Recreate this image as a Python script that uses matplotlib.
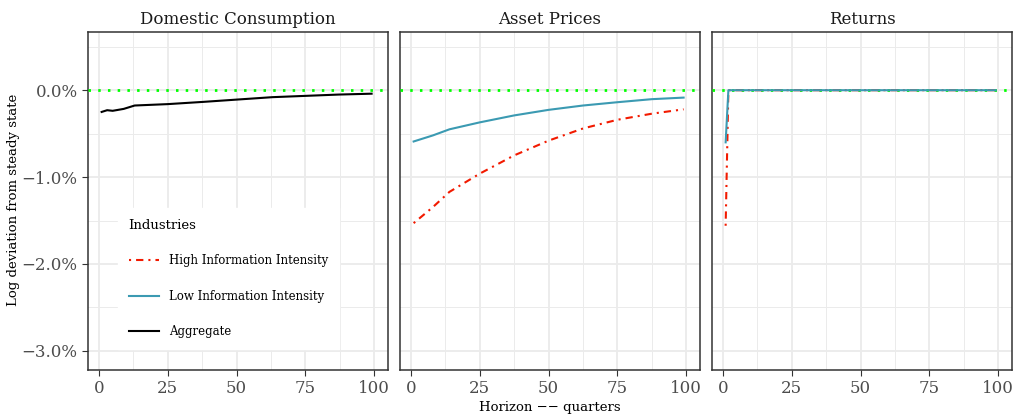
import numpy as np
import matplotlib.pyplot as plt
from matplotlib.lines import Line2D

plt.rcParams['font.family'] = ['DejaVu Serif']

cons_h = [1, 3, 5, 9, 13, 25, 38, 50, 63, 75, 87, 99]
cons_agg = [-0.25, -0.23, -0.237, -0.215, -0.176, -0.16, -0.134, -0.108, -0.08, -0.065, -0.05, -0.04]

price_h = [1, 8, 14, 25, 37.5, 50, 62.5, 75, 87.5, 99]
price_high = [-1.53, -1.345, -1.17, -0.96, -0.75, -0.58, -0.44, -0.34, -0.27, -0.22]
price_low = [-0.59, -0.52, -0.45, -0.37, -0.29, -0.226, -0.176, -0.138, -0.103, -0.085]

ret_h = [1, 2, 25, 50, 75, 99]
ret_high = [-1.56, 0.0, 0.0, 0.0, 0.0, 0.0]
ret_low = [-0.60, 0.0, 0.0, 0.0, 0.0, 0.0]

titles = ["Domestic Consumption", "Asset Prices", "Returns"]
red = "#F21A00"
teal = "#3B9AB2"
dotdash = (0, (1, 2.4, 3.5, 2.4))

fig = plt.figure(figsize=(10.18, 4.16), dpi=100)
lefts = [88, 400, 712]
axes = []
for i, l in enumerate(lefts):
    ax = fig.add_axes([l / 1018, 1 - 370 / 416, 300 / 1018, 338 / 416])
    axes.append(ax)
    ax.set_xlim(-3.95, 104.95)
    ax.set_ylim(-3.22, 0.67)
    ax.set_xticks([0, 25, 50, 75, 100])
    ax.set_xticks([12.5, 37.5, 62.5, 87.5], minor=True)
    ax.set_yticks([0, -1, -2, -3])
    ax.set_yticks([0.5, -0.5, -1.5, -2.5], minor=True)
    ax.grid(True, which='major', color='#EBEBEB', lw=1.3)
    ax.grid(True, which='minor', color='#EBEBEB', lw=0.7)
    ax.set_axisbelow(True)
    for s in ax.spines.values():
        s.set_color('#333333')
        s.set_linewidth(1.1)
    ax.tick_params(which='major', length=4, color='#333333', labelsize=12, labelcolor='#4D4D4D')
    ax.tick_params(which='minor', length=0)
    ax.set_title(titles[i], fontsize=12, pad=6, color='#1A1A1A')
    ax.axhline(0, color='#00FF00', lw=2.0, ls=(0, (0.9, 2.6)), zorder=3)
    if i == 0:
        ax.set_yticklabels(["0.0%", "\u22121.0%", "\u22122.0%", "\u22123.0%"])
    else:
        ax.set_yticklabels([])
        ax.tick_params(axis='y', length=0)

ax1, ax2, ax3 = axes
ax1.plot(cons_h, cons_agg, color='black', lw=1.5, zorder=4)

ax2.plot(price_h, price_low, color=teal, lw=1.5, zorder=4)
ax2.plot(price_h, price_high, color=red, lw=1.5, ls=dotdash, zorder=4)

ax3.plot(ret_h, ret_high, color=red, lw=1.5, ls=dotdash, zorder=4)
ax3.plot(ret_h, ret_low, color=teal, lw=1.5, zorder=4)

fig.text(14 / 1018, 1 - 200 / 416, "Log deviation from steady state", rotation=90,
         ha='center', va='center', fontsize=9.5)
fig.text(550 / 1018, 1 - 407 / 416, "Horizon \u2212\u2212 quarters", ha='center', va='center', fontsize=9.5)

handles = [
    Line2D([], [], color=red, lw=1.5, ls=dotdash),
    Line2D([], [], color=teal, lw=1.5),
    Line2D([], [], color='black', lw=1.5),
]
labels = ["High Information Intensity", "Low Information Intensity", "Aggregate"]
leg = ax1.legend(handles, labels, title="Industries", loc='lower left',
                 bbox_to_anchor=(0.08, 0.045), frameon=True, fontsize=8.5,
                 title_fontsize=9.5, labelspacing=1.9, handlelength=2.6,
                 borderpad=0.9, alignment='left', fancybox=False)
leg.get_frame().set_facecolor('white')
leg.get_frame().set_edgecolor('white')
leg.get_frame().set_alpha(1)
leg.set_zorder(10)

fig.savefig("out.png", dpi=100)
